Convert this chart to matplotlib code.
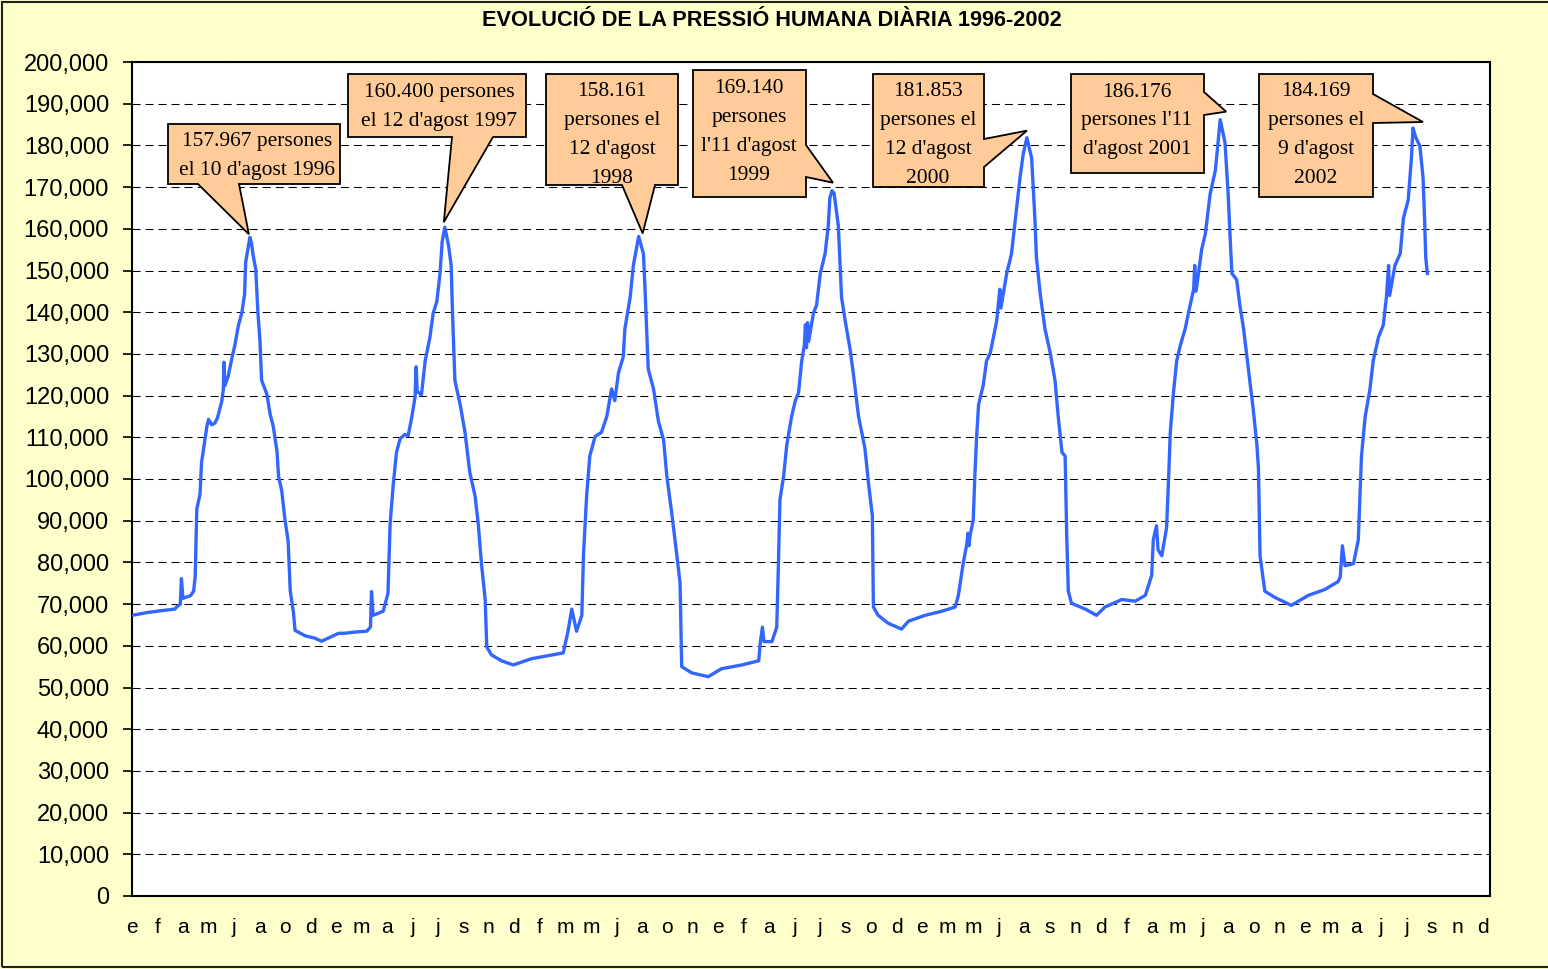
import matplotlib
matplotlib.use("Agg")
import matplotlib.pyplot as plt
from matplotlib.patches import Polygon, Rectangle
import numpy as np

plt.rcParams['font.family'] = ['Liberation Sans', 'DejaVu Sans']

W, H = 1548, 969  # output size in pixels

# dies comptats des de l'1 de gener de 1996 -> persones
dies_96 = [0, 30, 60, 81, 84, 91, 93, 96, 110, 116, 119, 122, 128, 131, 136, 141, 144, 150, 156, 161,
           169, 172, 173, 175, 181, 188, 194, 200, 207, 212, 214, 218, 222, 225, 228, 233, 237, 241, 244, 254,
           260, 266, 273, 276, 282, 288, 294, 298, 304, 307, 326, 345, 357]
pers_96 = [67300, 68000, 68500, 68800, 69300, 70000, 76100, 71400, 72000, 73100, 76600, 92800, 96300, 104000,
           108300, 112600, 114300, 113000, 113400, 114700, 118600, 121500, 128000, 122400, 124600, 128900,
           132300, 136600, 140000, 144300, 152000, 155000, 157967, 156500, 153700, 150300, 140000, 133100,
           123700, 120300, 115600, 112600, 106600, 100600, 97100, 90300, 85100, 73100, 68000, 63700, 62400,
           61800, 61100]

dies_97 = [372, 389, 400, 420, 442, 449, 451, 454, 473, 482, 486, 492, 498, 505, 514, 520, 527, 533, 535, 537,
           545, 552, 561, 567, 574, 580, 584, 589, 596, 601, 603, 608, 618, 627, 636, 646, 652, 658, 665, 668,
           677, 696, 718]
pers_97 = [62000, 63000, 63000, 63300, 63500, 64500, 73000, 67300, 68300, 72600, 89200, 98800, 106400, 109700,
           110700, 110400, 115000, 119700, 126900, 121000, 120200, 128300, 134000, 139700, 142600, 149300,
           156900, 160400, 156000, 151200, 141700, 123600, 117800, 111200, 101600, 95900, 89200, 79700, 71100,
           59700, 57800, 56400, 55400]

dies_98 = [752, 790, 812, 821, 828, 837, 847, 850, 856, 862, 872, 884, 894, 903, 909, 916, 925, 928, 938, 944,
           954, 963, 966, 972, 982, 991, 1001, 1007, 1016, 1026, 1032, 1035, 1054, 1085]
pers_98 = [56900, 57800, 58300, 63500, 68800, 63500, 67300, 81600, 95900, 105500, 110200, 111200, 115000,
           121600, 118800, 125500, 129300, 136000, 143600, 151200, 158161, 154000, 145500, 126400, 121600,
           114000, 109300, 100700, 92100, 81600, 75000, 55000, 53500, 52600]

dies_99 = [1110, 1148, 1180, 1183, 1187, 1190, 1205, 1214, 1217, 1220, 1227, 1233, 1242, 1249, 1255, 1261,
           1266, 1268, 1270, 1272, 1274, 1283, 1289, 1296, 1305, 1311, 1314, 1318, 1322, 1330, 1336, 1343,
           1352, 1358, 1368, 1380, 1387, 1394, 1396, 1405, 1424, 1449]
pers_99 = [54500, 55400, 56400, 60700, 64500, 61000, 61000, 64500, 78800, 95000, 100700, 108300, 115000,
           118800, 120700, 128300, 132100, 137000, 131500, 137500, 133000, 139700, 141700, 149300, 154000,
           160700, 167400, 169140, 168500, 160700, 143600, 137800, 131200, 125500, 115000, 107400, 98800,
           91200, 69300, 67300, 65400, 64000]

dies_00 = [1462, 1493, 1525, 1550, 1556, 1565, 1572, 1574, 1576, 1578, 1584, 1587, 1590, 1594, 1603, 1609,
           1616, 1622, 1628, 1634, 1636, 1647, 1656, 1664, 1672, 1678, 1685, 1694, 1700, 1703, 1710, 1719,
           1729, 1738, 1744, 1751, 1757, 1760, 1763, 1769, 1795, 1816]
pers_00 = [65900, 67300, 68300, 69300, 72100, 79700, 84500, 87000, 84000, 86400, 90200, 100700, 109300,
           117800, 122600, 128300, 130200, 134000, 137800, 145500, 141000, 149300, 154000, 163000, 172200,
           177900, 181853, 176900, 162600, 153100, 144500, 136000, 130200, 123600, 115000, 106400, 105500,
           86400, 73100, 70200, 68800, 67300]

dies_01 = [1832, 1864, 1889, 1908, 1920, 1923, 1929, 1932, 1939, 1948, 1952, 1955, 1961, 1967, 1974, 1983,
           1989, 1999, 2001, 2003, 2005, 2014, 2021, 2030, 2040, 2049, 2058, 2064, 2067, 2071, 2080, 2086,
           2093, 2102, 2111, 2118, 2121, 2124, 2133, 2152, 2183]
pers_01 = [69300, 71100, 70700, 72100, 76900, 85400, 88800, 83000, 81600, 88300, 100700, 111200, 120700,
           128300, 132100, 136000, 139700, 145500, 151200, 145000, 146400, 155000, 158800, 168300, 174100,
           186176, 180700, 168300, 159800, 149300, 147800, 141700, 136000, 126400, 116900, 108300, 102600,
           81600, 73100, 71600, 69700]

dies_02 = [2215, 2246, 2271, 2275, 2279, 2284, 2300, 2309, 2315, 2322, 2331, 2337, 2347, 2356, 2362, 2366,
           2368, 2378, 2388, 2394, 2403, 2409, 2412, 2417, 2425, 2431, 2434, 2436, 2439]
pers_02 = [72100, 73500, 75400, 76500, 84000, 79200, 79700, 85400, 105500, 115000, 121600, 128300, 134000,
           136900, 143600, 151200, 144000, 151200, 154100, 162600, 166900, 176900, 184169, 182000, 179800,
           172200, 161700, 153100, 149300]

# una etiqueta cada 48 dies (inicial del mes)
mesos = "e f a m j a o d e m a j j s n d f m m j a o n e f a j j s o d e m m j a s n d f a m j a o n e m a j j s n d".split()

# pics anuals
dia_pic = [222, 589, 954, 1318, 1685, 2049, 2412]
valor_pic = [157967, 160400, 158161, 169140, 181853, 186176, 184169]
etiquetes = ["157.967 persones\nel 10 d'agost 1996",
             "160.400 persones\nel 12 d'agost 1997",
             "158.161\npersones el\n12 d'agost\n1998",
             "169.140\npersones\nl'11 d'agost\n1999",
             "181.853\npersones el\n12 d'agost\n2000",
             "186.176\npersones l'11\nd'agost 2001",
             "184.169\npersones el\n9 d'agost\n2002"]

title = "EVOLUCIÓ DE LA PRESSIÓ HUMANA DIÀRIA 1996-2002"

dies = dies_96 + dies_97 + dies_98 + dies_99 + dies_00 + dies_01 + dies_02
persones = pers_96 + pers_97 + pers_98 + pers_99 + pers_00 + pers_01 + pers_02

fig = plt.figure(figsize=(W / 100., H / 100.), dpi=100, facecolor='#FFFFCC')
ax = fig.add_axes([132. / W, (H - 896.) / H, (1490. - 132.) / W, (896. - 62.) / H])
ax.set_facecolor('white')

ax.plot(dies, persones, color='#3366FF', linewidth=2.4, zorder=3)

ax.set_xlim(0, 2557)
ax.set_ylim(0, 200000)
yt = np.arange(0, 200001, 10000)
ax.set_yticks(yt)
ax.set_yticklabels(["{:,}".format(int(v)) for v in yt])
ax.set_xticks(np.arange(0, 2557, 48))
ax.set_xticklabels(mesos)
ax.tick_params(axis='x', length=0, pad=16, labelsize=15)
ax.tick_params(axis='y', length=6.5, width=1.2, pad=10, labelsize=17, direction='out')
ax.grid(axis='y', color='k', linewidth=0.75, linestyle=(0, (7.7, 4.8)))
ax.set_axisbelow(True)
for sp in ax.spines.values():
    sp.set_linewidth(1.5)
    sp.set_color('black')

fig.text(772. / W, 1 - 20. / H, title, ha='center', va='center', fontsize=15.7, fontweight='bold')

# requadres de les crides (pixels de la imatge): x0, y0, x1, y1, costat, base a, base b, desplaçament punta
caixes = [(168, 124, 340, 184, 'b', 198, 239, (-1, -3)),
          (348, 74, 526, 137, 'b', 452, 493, (-1, -5)),
          (546, 74, 678, 185, 'b', 622, 655, (4, -3)),
          (693, 70, 806, 197, 'r', 145, 177, (1, -8)),
          (873, 74, 984, 187, 'r', 139, 167, (0, -7)),
          (1071, 74, 1204, 173, 'r', 92, 115, (6, -8)),
          (1259, 74, 1373, 197, 'r', 94, 123, (10, -6))]
centres = [(257, 156), (439, 107), (612, 135), (749, 132), (928, 135), (1137, 121), (1316, 135)]


def fr(x, y):
    return (x / float(W), 1 - y / float(H))


for i, (x0, y0, x1, y1, side, a, b, off) in enumerate(caixes):
    px, py = ax.transData.transform((dia_pic[i], valor_pic[i]))
    tip = (px + off[0], H - py + off[1])
    if side == 'b':
        pts = [(x0, y0), (x1, y0), (x1, y1), (b, y1), tip, (a, y1), (x0, y1)]
    else:
        pts = [(x0, y0), (x1, y0), (x1, a), tip, (x1, b), (x1, y1), (x0, y1)]
    poly = Polygon([fr(*p) for p in pts], closed=True, transform=fig.transFigure,
                   facecolor='#FFCC99', edgecolor='black', linewidth=1.3, zorder=5)
    fig.add_artist(poly)
    cx, cy = centres[i]
    fig.text(cx / float(W), 1 - cy / float(H), etiquetes[i], ha='center', va='center',
             family='Liberation Serif', fontsize=15.5, linespacing=1.7, zorder=6)

# vora exterior
fig.add_artist(Rectangle((2. / W, 2. / H), 1.2, 965. / H, transform=fig.transFigure,
                         fill=False, edgecolor='#222222', linewidth=1.5))

fig.savefig('out.png', dpi=100, facecolor=fig.get_facecolor())
